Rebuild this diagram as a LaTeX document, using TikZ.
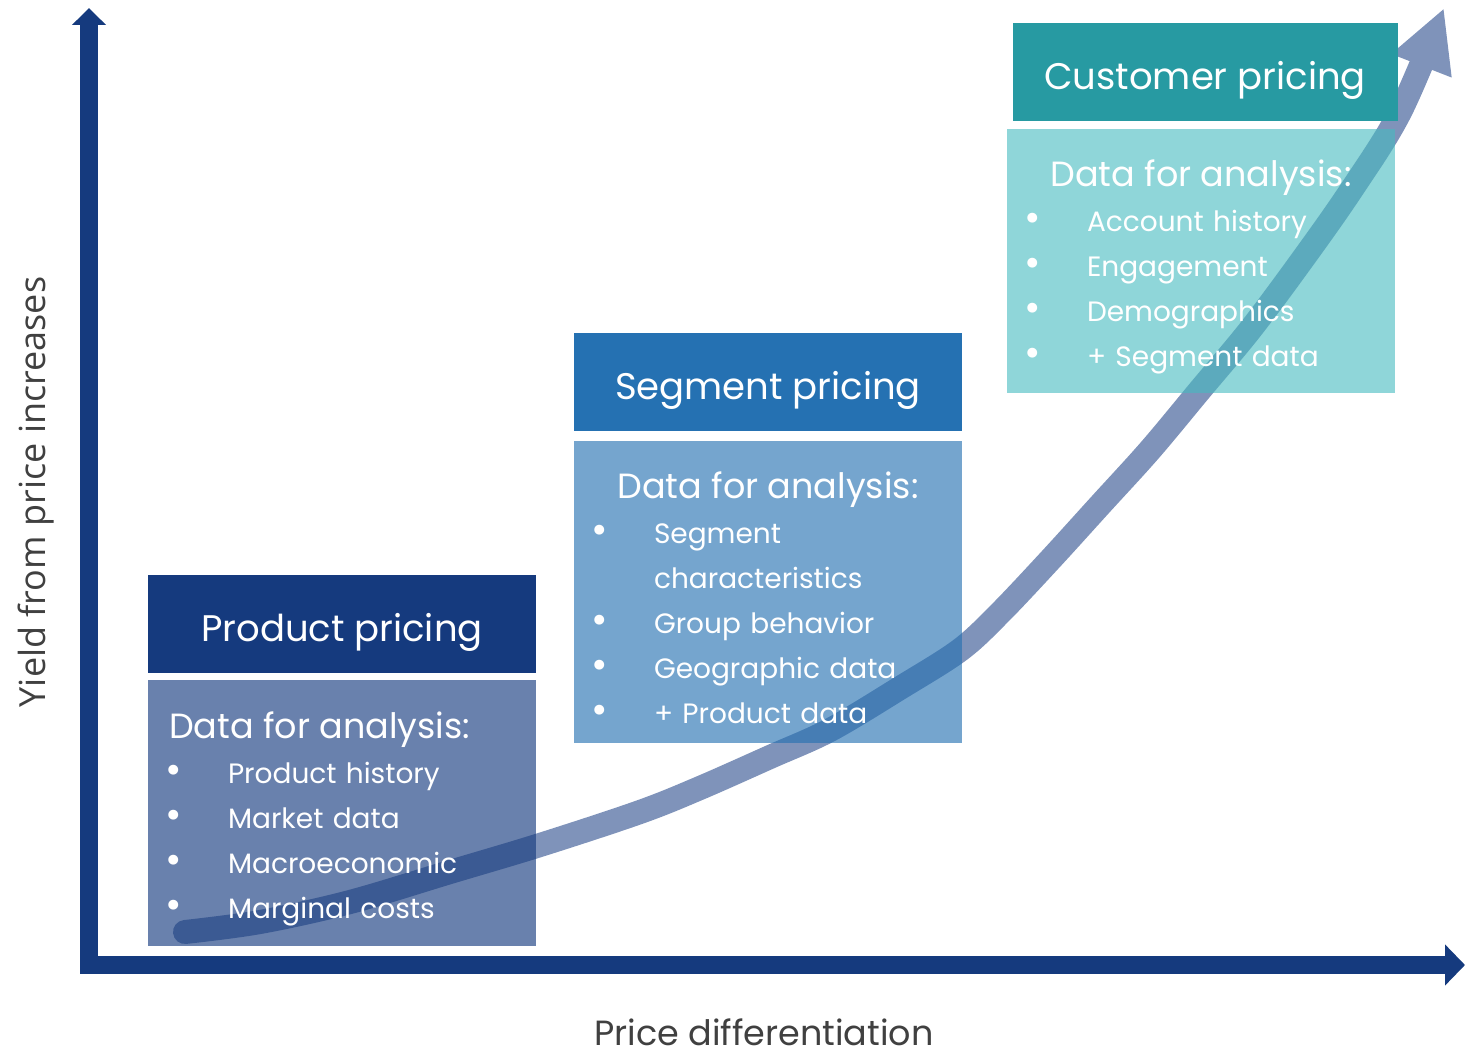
\documentclass[tikz,border=0pt]{standalone}
\usepackage{fontspec}
\setmainfont{Poppins}
\newfontfamily\axisfont{Open Sans}
\usetikzlibrary{arrows.meta,positioning}

\definecolor{navy}{RGB}{21,58,126}
\definecolor{segblue}{RGB}{37,113,178}
\definecolor{custteal}{RGB}{39,154,162}
\definecolor{custlight}{RGB}{69,186,191}
\definecolor{trend}{RGB}{127,147,186}
\definecolor{labelgray}{RGB}{64,64,64}

% bullet plus the gap before the item text
\newcommand{\bul}{\makebox[59pt][l]{\hspace*{-4pt}\fontsize{40}{45}\selectfont\textbullet}}
\newcommand{\datahead}{{\fontsize{35}{45}\selectfont Data for analysis:}}

\begin{document}
\begin{tikzpicture}[x=1pt,y=-1pt,node distance=8pt,
    head/.style={minimum width=388pt,minimum height=98pt,inner sep=0pt,
      text height=35pt,text depth=0pt,text=white,font=\fontsize{37}{40}\selectfont},
    body/.style={minimum width=388pt,inner sep=0pt,text=white,
      fill opacity=.64,text opacity=1,text width=346pt,align=left,
      font=\fontsize{28}{45}\selectfont,execute at begin node={\rule{0pt}{38pt}}},
    axis/.style={draw=navy,line width=18pt,line join=miter}]
  \useasboundingbox (0,0) rectangle (1473,1051);

  % axes
  \coordinate (orig) at (89,965);
  \coordinate (ytop) at (89,8);
  \coordinate (xend) at (1465,965);
  \draw[axis,{Triangle[width=40pt,length=20pt]}-{Triangle[width=33pt,length=17pt]}]
    (xend) -- (orig) -- (ytop);
  \node[rotate=90,anchor=base,inner sep=0pt,text=labelgray,
    font=\axisfont\fontsize{36}{38}\selectfont] (ylabel) at (45,492)
    {Yield from price increases};
  \node[anchor=base,inner sep=0pt,text=labelgray,font=\fontsize{35}{36}\selectfont]
    (xlabel) at (764,1045) {Price differentiation};

  % trend line, sits under the boxes
  \coordinate (tstart) at (185,932);
  \coordinate (ttip) at (1444,8);
  \draw[trend,line width=24pt,line cap=round,-{Triangle[width=60pt,length=62pt]}]
    plot[smooth,tension=.55] coordinates {(tstart) (260,922) (350,902) (450,872) (540,845)
      (640,812) (700,788) (770,757) (830,730) (900,688) (960,650) (1000,613) (1050,560)
      (1100,505) (1150,450) (1200,390) (1250,330) (1300,263) (1350,192) (1400,112) (ttip)};

  % product pricing
  \node[head,fill=navy] (prodhead) at (342,624) {Product pricing};
  \node[body,fill=navy,minimum height=266pt,below=7pt of prodhead] (prodbody)
    {\datahead\\ \bul Product history\\ \bul Market data\\
     \bul Macroeconomic\\ \bul Marginal costs};

  % segment pricing
  \node[body,fill=segblue,fill opacity=.63,minimum height=302pt] (segbody) at (768,592)
    {\makebox[\linewidth]{\datahead}\\ \bul Segment\\ \hspace*{59pt}characteristics\\
     \bul Group behavior\\ \bul Geographic data\\ \bul + Product data};
  \node[head,fill=segblue,above=10pt of segbody] (seghead) {Segment pricing};

  % customer pricing
  \node[head,fill=custteal,minimum width=385pt] (custhead) at (1205,72) {Customer pricing};
  \node[body,fill=custlight,fill opacity=.6,minimum height=264pt,
    below=8pt of custhead,xshift=-4pt] (custbody)
    {\makebox[\linewidth]{\datahead}\\ \bul Account history\\ \bul Engagement\\
     \bul Demographics\\ \bul + Segment data};
\end{tikzpicture}
\end{document}
